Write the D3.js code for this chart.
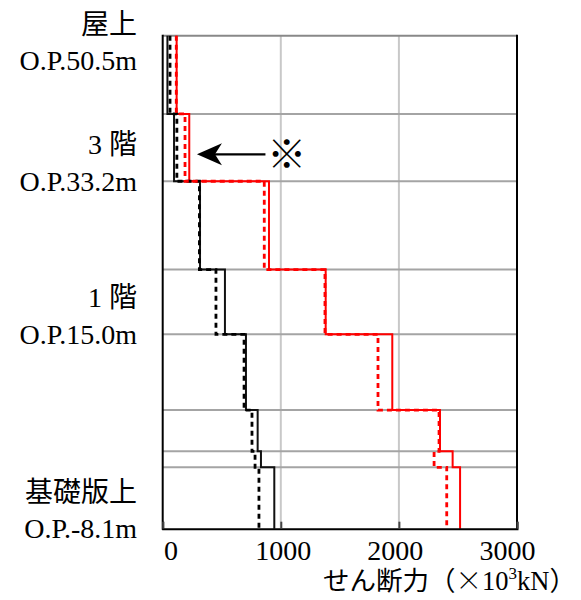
<!DOCTYPE html>
<html><head><meta charset="utf-8">
<script src="https://cdn.jsdelivr.net/npm/d3@7"></script>
<style>body{margin:0;background:#fff;} text{font-family:"Liberation Serif","Noto Sans CJK JP",serif;}</style>
</head><body><svg id="c" width="581" height="600"></svg>
<script>
// Story boundaries (O.P. height, m), top to bottom
const levels = [50.5, 41.2, 33.2, 22.7, 15.0, 6.0, 1.1, -0.8, -8.1];
// Shear force per segment (x10^3 kN), top to bottom
const blackSolid  = [40, 96, 316, 527, 705, 804, 832, 945];
const blackDotted = [62, 120, 311, 451, 689, 756, 782, 815];
const redSolid    = [118, 225, 900, 1380, 1944, 2348, 2455, 2518];
const redDotted   = [115, 189, 860, 1374, 1823, 2340, 2298, 2405];
const xTicks = [0, 1000, 2000, 3000];
const floorLabels = [
  {h: 50.5, name: "屋上", op: "O.P.50.5m"},
  {h: 33.2, name: "3 階", op: "O.P.33.2m"},
  {h: 15.0, name: "1 階", op: "O.P.15.0m"},
  {h: -8.1, name: "基礎版上", op: "O.P.-8.1m"}
];
const xTitleParts = ["せん断力（", "×", "10", "3", "kN）"];
const note = {mark: "※", x: 1050, h: 36.4, arrowFrom: 870, arrowTo: 290};

const svg = d3.select("#c");
const x = d3.scaleLinear().domain([0, 3000]).range([162.7, 517]);
const y = d3.scaleLinear().domain([-8.1, 50.5]).range([528.7, 35.7]);
const xLab = d3.scaleLinear().domain([0, 3000]).range([170.5, 507]);

// vertical grid
svg.append("g").selectAll("line").data([1000, 2000]).join("line")
  .attr("x1", d => x(d)).attr("x2", d => x(d)).attr("y1", y(50.5)).attr("y2", y(-8.1))
  .attr("stroke", "#c8c8c8").attr("stroke-width", 2);
// horizontal story lines
svg.append("g").selectAll("line").data(levels.slice(0, -1)).join("line")
  .attr("x1", x(0)).attr("x2", x(3000)).attr("y1", d => y(d)).attr("y2", d => y(d))
  .attr("stroke", d => d === 50.5 ? "#888" : "#a4a4a4").attr("stroke-width", 2);

function stepPts(vals) {
  const pts = [];
  vals.forEach((v, i) => { pts.push([v, levels[i]]); pts.push([v, levels[i + 1]]); });
  return pts;
}
const line = d3.line().x(d => x(d[0])).y(d => y(d[1]));
const series = [
  {v: blackSolid, c: "#111", w: 2, dash: null},
  {v: redSolid, c: "#ff0000", w: 2, dash: null},
  {v: blackDotted, c: "#000", w: 2.8, dash: "5,4"},
  {v: redDotted, c: "#ff0000", w: 2.8, dash: "5,4"}
];
svg.append("g").selectAll("path").data(series).join("path")
  .attr("d", d => line(stepPts(d.v))).attr("fill", "none")
  .attr("stroke", d => d.c).attr("stroke-width", d => d.w)
  .attr("stroke-dasharray", d => d.dash);

// frame
svg.append("line").attr("x1", x(0)).attr("x2", x(0)).attr("y1", y(50.5) - 1).attr("y2", y(-8.1) + 1)
  .attr("stroke", "#000").attr("stroke-width", 2);
svg.append("line").attr("x1", x(3000)).attr("x2", x(3000)).attr("y1", y(50.5) - 1).attr("y2", y(-8.1) + 1)
  .attr("stroke", "#000").attr("stroke-width", 2);

// x axis
const ax = svg.append("g").attr("transform", `translate(0,${y(-8.1)})`)
  .call(d3.axisBottom(x).tickValues(xTicks).tickSize(-7).tickFormat(d3.format("d")));
ax.select(".domain").attr("stroke", "#000").attr("stroke-width", 2);
ax.selectAll(".tick line").attr("stroke", "#444").attr("stroke-width", 2);
ax.selectAll(".tick text").attr("font-size", 28).attr("fill", "#000")
  .attr("font-family", "Liberation Serif")
  .attr("x", d => xLab(d) - x(d)).attr("y", 31).attr("dy", 0);

// axis title
const t = svg.append("text").attr("x", 323).attr("y", 590).attr("font-size", 26.5).attr("fill", "#000");
t.append("tspan").text(xTitleParts[0]);
t.append("tspan").attr("font-family", "Noto Sans CJK JP").attr("font-weight", 300).text(xTitleParts[1]);
t.append("tspan").text(xTitleParts[2]);
t.append("tspan").attr("font-size", 17).attr("dy", -11).text(xTitleParts[3]);
t.append("tspan").attr("dy", 11).text(xTitleParts[4]);

// floor labels
const fl = svg.append("g").attr("text-anchor", "end").attr("font-size", 28).attr("fill", "#000");
floorLabels.forEach(f => {
  const cy = y(f.h) + (f.h === 50.5 ? 25 : 0);
  fl.append("text").attr("x", 137).attr("y", cy - 37 + 10).text(f.name);
  fl.append("text").attr("x", 137).attr("y", cy + 9.5).text(f.op);
});

// annotation arrow + mark
const ay = y(note.h);
svg.append("line").attr("x1", x(note.arrowFrom)).attr("x2", x(note.arrowTo) + 16)
  .attr("y1", ay).attr("y2", ay).attr("stroke", "#000").attr("stroke-width", 2.2);
const tip = x(note.arrowTo);
svg.append("path").attr("d", `M${tip},${ay} L${tip + 25},${ay - 11} L${tip + 18},${ay} L${tip + 25},${ay + 11} Z`)
  .attr("fill", "#000");
svg.append("text").attr("x", x(note.x)).attr("y", ay + 14).attr("text-anchor", "middle")
  .attr("font-size", 39).attr("font-family", "Noto Sans CJK JP").attr("fill", "#000").text(note.mark);
</script></body></html>
